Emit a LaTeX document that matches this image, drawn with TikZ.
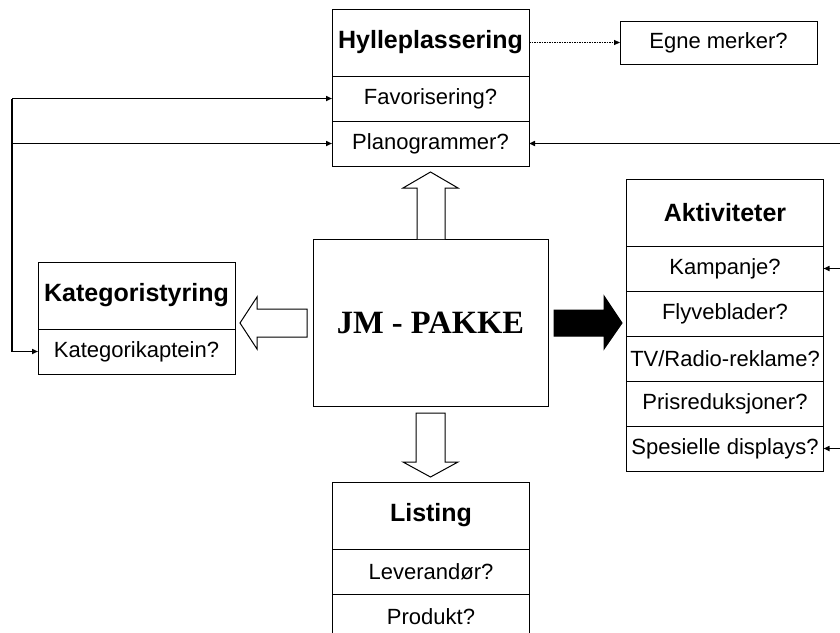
\documentclass[tikz,border=0pt]{standalone}
\usepackage{fontspec}
\setmainfont{Liberation Sans}
\newfontfamily\jmfont{Liberation Serif}
\usetikzlibrary{positioning,arrows.meta}

\tikzset{
  hdr/.style={draw,line width=1pt,inner sep=0pt,outer sep=0pt,
    minimum width=197pt,minimum height=67pt,
    font=\fontsize{25}{28}\selectfont\bfseries},
  row/.style={draw,line width=1pt,inner sep=0pt,outer sep=0pt,
    minimum width=197pt,minimum height=45pt,
    font=\fontsize{22}{25}\selectfont},
  conn/.style={line width=1.5pt,-{Triangle[length=6pt,width=5pt]}},
  blockarrow/.style={line width=1pt,fill=white,line join=miter}
}

\begin{document}
\begin{tikzpicture}[x=1pt,y=-1pt]

      \useasboundingbox (0,0) rectangle (840,632);

      % boxes
      \node[hdr] (hyl) at (430.5,42.5) {Hylleplassering};
      \node[row,below=0pt of hyl] (fav) {Favorisering?};
      \node[row,below=0pt of fav] (plan) {Planogrammer?};

      \node[row,minimum height=43pt] (egne) at (718.5,42.5) {Egne merker?};

      \node[hdr] (akt) at (725,212.5) {Aktiviteter};
      \node[row,below=0pt of akt] (kamp) {Kampanje?};
      \node[row,below=0pt of kamp] (flyv) {Flyveblader?};
      \node[row,below=0pt of flyv] (tv) {TV/Radio-reklame?};
      \node[row,below=0pt of tv] (pris) {Prisreduksjoner?};
      \node[row,below=0pt of pris] (disp) {Spesielle displays?};

      \node[hdr] (kat) at (136.5,295.5) {Kategoristyring};
      \node[row,below=0pt of kat] (kap) {Kategorikaptein?};

      \node[hdr] (list) at (431,515.5) {Listing};
      \node[row,below=0pt of list] (lev) {Leverandør?};
      \node[row,below=0pt of lev] (prod) {Produkt?};

      \node[draw,line width=1pt,minimum width=235pt,minimum height=167pt,
        font=\fontsize{32.5}{36}\selectfont\jmfont\bfseries] (jm) at (430.5,322.5) {JM - PAKKE};

      % block arrows
      \draw[blockarrow] (417,239) -- (417,188) -- (403,188) -- (430.5,172)
        -- (458,188) -- (445,188) -- (445,239);
      \draw[blockarrow] (307,309) -- (257,309) -- (257,297) -- (240,323)
        -- (257,349) -- (257,337) -- (307,337) -- cycle;
      \draw[blockarrow,fill=black] (554,310) -- (604,310) -- (604,296) -- (622,323)
        -- (604,349) -- (604,336) -- (554,336) -- cycle;
      \draw[blockarrow] (416,413) -- (416,462) -- (403,462) -- (430.5,477)
        -- (458,462) -- (445,462) -- (445,413) -- cycle;

      % connectors
      \coordinate (lft) at (12,0);
      \coordinate (rgt) at (840,0);

      \draw[conn,densely dotted,line width=0.8pt] (hyl) -- (egne);
      \draw[conn] (lft |- fav) -- (fav);
      \draw[conn] (lft |- plan) -- (plan);
      \draw[conn] (lft |- fav) |- (kap);
      \draw[conn] (rgt |- plan) -- (plan);
      \draw[conn] (rgt |- kamp) -- (kamp);
      \draw[conn] (rgt |- disp) -- (disp);

    \end{tikzpicture}
\end{document}
